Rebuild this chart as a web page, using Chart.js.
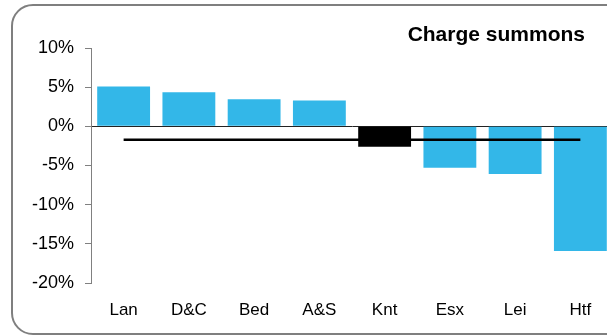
<!DOCTYPE html>
<html>
<head>
<meta charset="utf-8">
<script src="https://cdn.jsdelivr.net/npm/chart.js@4"></script>
<style>
    html, body { margin: 0; padding: 0; background: #fff; overflow: hidden; }
    #wrap { position: relative; width: 613px; height: 336px; }
    #frame {
        position: absolute; left: 11px; top: 4px; width: 620px; height: 331px;
        border: 2px solid #7f7f7f; border-radius: 22px; box-sizing: border-box;
    }
    canvas { position: absolute; left: 0; top: 0; }
</style>
</head>
<body>
<div id="wrap">
    <div id="frame"></div>
    <canvas id="makeChart" width="613" height="336"></canvas>
</div>
<script>
const forces = ['Lan', 'D&C', 'Bed', 'A&S', 'Knt', 'Esx', 'Lei', 'Htf'];
const change = [5.1, 4.35, 3.45, 3.3, -2.6, -5.3, -6.1, -15.9];
const average = [-1.7, -1.7, -1.7, -1.7, -1.7, -1.7, -1.7, -1.7];
const highlight = 'Knt';
const titleText = 'Charge summons';

const barColors = forces.map(f => f == highlight ? '#000000' : '#33b7e8');

// title drawn top right, like the original
const titlePlugin = {
    id: 'cornerTitle',
    afterDraw: (chart) => {
        const ctx = chart.ctx;
        ctx.save();
        ctx.font = 'bold 21px "Liberation Sans", Arial, sans-serif';
        ctx.fillStyle = '#000';
        ctx.textAlign = 'right';
        ctx.textBaseline = 'middle';
        ctx.fillText(titleText, 585, 35);
        ctx.restore();
    }
};

const config = {
    type: 'bar',
    data: {
        labels: forces,
        datasets: [{
            type: 'line',
            data: average,
            borderColor: '#000',
            borderWidth: 2.5,
            pointRadius: 0,
            order: 0
        }, {
            data: change,
            backgroundColor: barColors,
            categoryPercentage: 1,
            barPercentage: 0.81,
            order: 1
        }]
    },
    options: {
        responsive: false,
        animation: false,
        layout: { padding: { top: 48, left: 0, right: 0, bottom: 0 } },
        plugins: {
            legend: { display: false },
            tooltip: { enabled: false },
            title: { display: false }
        },
        scales: {
            x: {
                grid: { display: false, drawTicks: false },
                border: { display: false },
                ticks: {
                    color: '#000',
                    padding: 17,
                    font: { family: '"Liberation Sans", Arial, sans-serif', size: 17 }
                },
                afterFit: (scale) => { scale.height = 53; }
            },
            y: {
                min: -20,
                max: 10,
                ticks: {
                    stepSize: 5,
                    color: '#000',
                    padding: 11,
                    font: { family: '"Liberation Sans", Arial, sans-serif', size: 18 },
                    callback: (v) => v + '%'
                },
                grid: {
                    drawOnChartArea: true,
                    tickLength: 6,
                    tickColor: '#808080',
                    color: (c) => c.tick && c.tick.value === 0 ? '#222' : 'rgba(0,0,0,0)',
                    lineWidth: 1
                },
                border: { display: true, color: '#808080' },
                afterFit: (scale) => { scale.width = 91; }
            }
        }
    },
    plugins: [titlePlugin]
};

const myChart = new Chart(document.getElementById('makeChart'), config);
</script>
</body>
</html>
